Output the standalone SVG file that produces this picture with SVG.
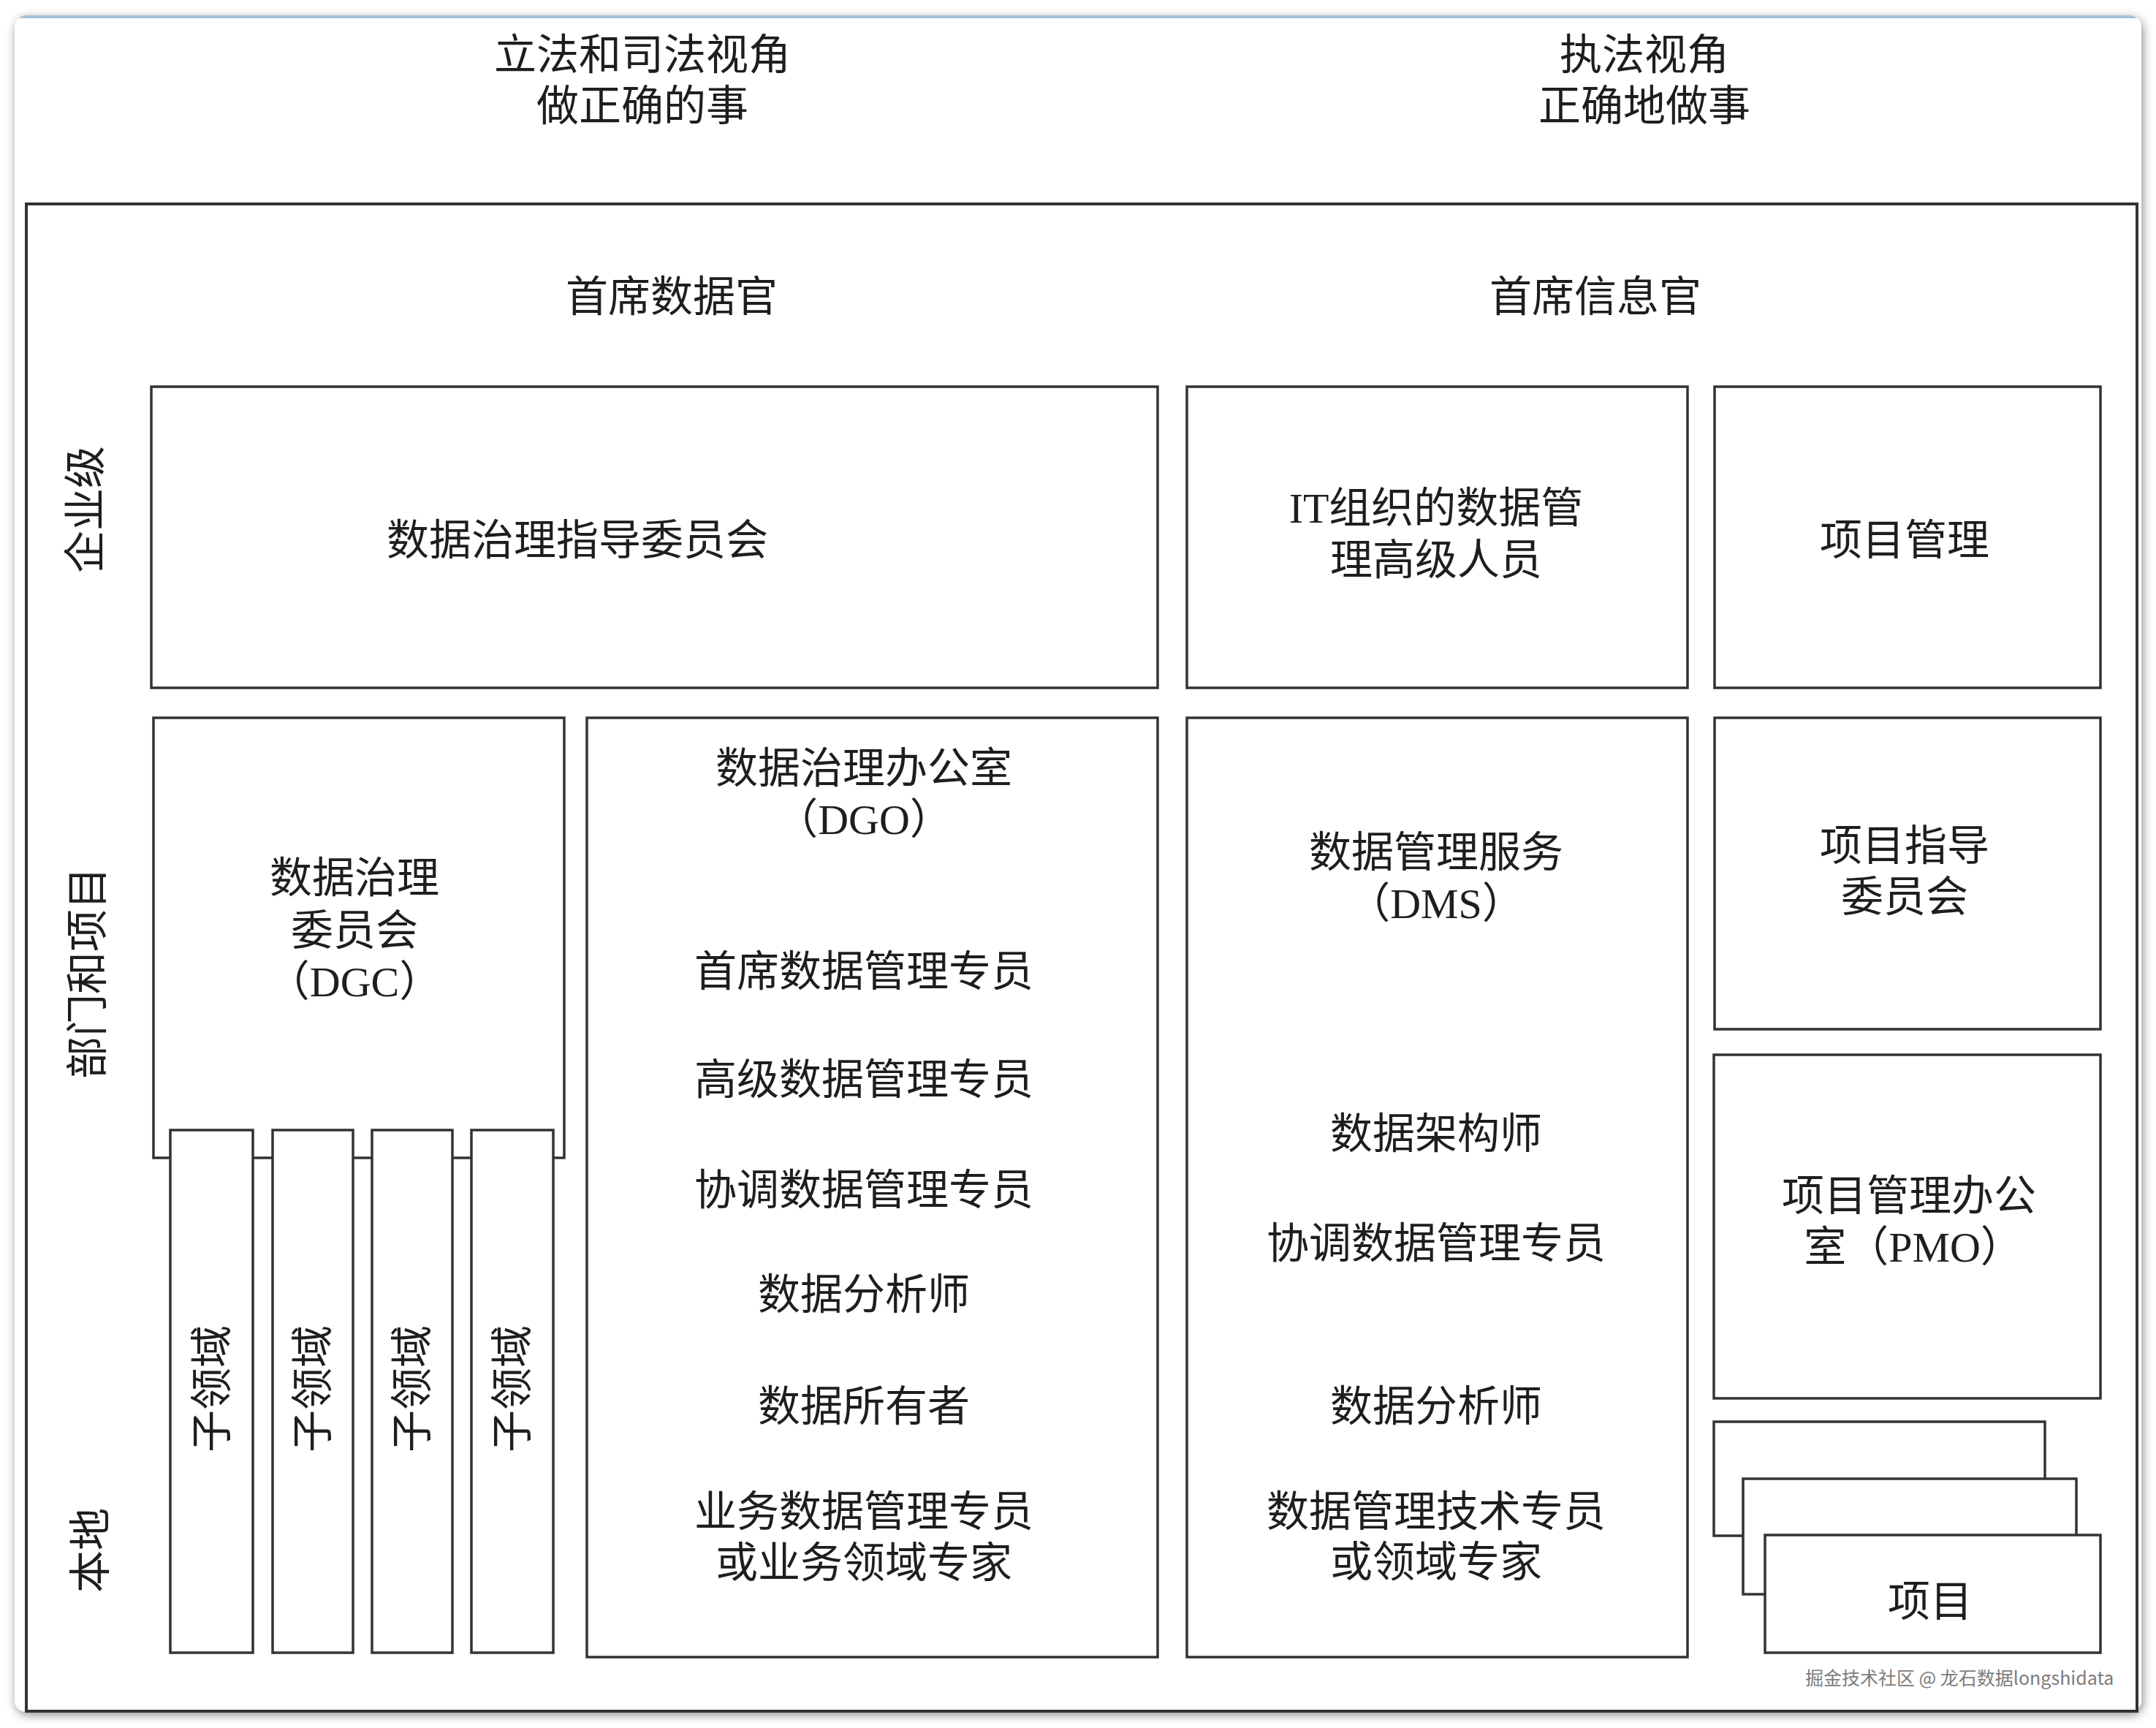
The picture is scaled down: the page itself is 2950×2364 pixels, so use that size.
<svg xmlns="http://www.w3.org/2000/svg" width="2950" height="2364" viewBox="0 0 2950 2364">
  <defs>
    <filter id="shadow" x="-5%" y="-5%" width="110%" height="110%">
      <feDropShadow dx="2" dy="4" stdDeviation="7" flood-color="#000" flood-opacity="0.45"/>
    </filter>
    <clipPath id="cardClip">
      <rect x="20" y="21" width="2910" height="2321" rx="16" ry="16"/>
    </clipPath>
    <style>
      .box { fill: #ffffff; stroke: #333333; stroke-width: 3.5; }
      .frame { fill: none; stroke: #333333; stroke-width: 4; }
      .t { font-family: "Liberation Serif", "Noto Sans CJK SC", serif; font-size: 58px; fill: #1e1e1e; text-anchor: middle; dominant-baseline: central; }
      .wm { font-family: "Noto Sans CJK SC", "Noto Sans", sans-serif; font-size: 25px; fill: #7c7c7c; }
    </style>
  </defs>

  <rect x="0" y="0" width="2950" height="2364" fill="#ffffff"/>

  <g id="card">
    <rect x="20" y="21" width="2910" height="2321" rx="16" ry="16" fill="#ffffff" filter="url(#shadow)"/>
    <rect x="0" y="19" width="2950" height="6" fill="#a6c2da" clip-path="url(#cardClip)"/>
  </g>

  <g id="headings">
    <text class="t" x="879" y="75">立法和司法视角</text>
    <text class="t" x="879" y="145">做正确的事</text>
    <text class="t" x="2250" y="75">执法视角</text>
    <text class="t" x="2250" y="145">正确地做事</text>
  </g>

  <g id="inner-frame">
    <rect class="frame" x="36" y="279" width="2888" height="2062"/>
    <text class="t" x="919" y="406">首席数据官</text>
    <text class="t" x="2183" y="406">首席信息官</text>
  </g>

  <g id="level-labels">
    <text class="t" x="117" y="697" transform="rotate(-90 117 697)">企业级</text>
    <text class="t" x="120" y="1331" transform="rotate(-90 120 1331)">部门和项目</text>
    <text class="t" x="124" y="2121" transform="rotate(-90 124 2121)">本地</text>
  </g>

  <g id="dgsc">
    <rect class="box" x="207" y="529" width="1377" height="412"/>
    <text class="t" x="790" y="739">数据治理指导委员会</text>
  </g>

  <g id="it-senior">
    <rect class="box" x="1624" y="529" width="685" height="412"/>
    <text class="t" x="1965" y="695">IT组织的数据管</text>
    <text class="t" x="1965" y="766">理高级人员</text>
  </g>

  <g id="project-management">
    <rect class="box" x="2346" y="529" width="528" height="412"/>
    <text class="t" x="2606" y="739">项目管理</text>
  </g>

  <g id="dgc">
    <rect class="box" x="210" y="982" width="562" height="602"/>
    <text class="t" x="485" y="1201">数据治理</text>
    <text class="t" x="485" y="1273">委员会</text>
    <text class="t" x="485" y="1343">（DGC）</text>
  </g>

  <g id="subdomain-1">
    <rect class="box" x="233" y="1546" width="113" height="715"/>
    <text class="t" x="290" y="1900" transform="rotate(-90 290 1900)">子领域</text>
  </g>
  <g id="subdomain-2">
    <rect class="box" x="373" y="1546" width="110" height="715"/>
    <text class="t" x="428" y="1900" transform="rotate(-90 428 1900)">子领域</text>
  </g>
  <g id="subdomain-3">
    <rect class="box" x="509" y="1546" width="110" height="715"/>
    <text class="t" x="564" y="1900" transform="rotate(-90 564 1900)">子领域</text>
  </g>
  <g id="subdomain-4">
    <rect class="box" x="645" y="1546" width="112" height="715"/>
    <text class="t" x="701" y="1900" transform="rotate(-90 701 1900)">子领域</text>
  </g>

  <g id="dgo">
    <rect class="box" x="803" y="982" width="781" height="1285"/>
    <text class="t" x="1182" y="1051">数据治理办公室</text>
    <text class="t" x="1182" y="1121">（DGO）</text>
    <text class="t" x="1182" y="1329">首席数据管理专员</text>
    <text class="t" x="1182" y="1477">高级数据管理专员</text>
    <text class="t" x="1182" y="1628">协调数据管理专员</text>
    <text class="t" x="1182" y="1771">数据分析师</text>
    <text class="t" x="1182" y="1924">数据所有者</text>
    <text class="t" x="1182" y="2068">业务数据管理专员</text>
    <text class="t" x="1182" y="2138">或业务领域专家</text>
  </g>

  <g id="dms">
    <rect class="box" x="1624" y="982" width="685" height="1285"/>
    <text class="t" x="1965" y="1166">数据管理服务</text>
    <text class="t" x="1965" y="1236">（DMS）</text>
    <text class="t" x="1965" y="1551">数据架构师</text>
    <text class="t" x="1965" y="1701">协调数据管理专员</text>
    <text class="t" x="1965" y="1924">数据分析师</text>
    <text class="t" x="1965" y="2068">数据管理技术专员</text>
    <text class="t" x="1965" y="2137">或领域专家</text>
  </g>

  <g id="project-steering">
    <rect class="box" x="2346" y="982" width="528" height="426"/>
    <text class="t" x="2606" y="1157">项目指导</text>
    <text class="t" x="2606" y="1227">委员会</text>
  </g>

  <g id="pmo">
    <rect class="box" x="2345" y="1443" width="529" height="470"/>
    <text class="t" x="2612" y="1636">项目管理办公</text>
    <text class="t" x="2618" y="1706">室（PMO）</text>
  </g>

  <g id="projects">
    <rect class="box" x="2345" y="1945" width="453" height="156"/>
    <rect class="box" x="2385" y="2023" width="456" height="158"/>
    <rect class="box" x="2415" y="2100" width="459" height="161"/>
    <text class="t" x="2641" y="2191">项目</text>
  </g>

  <g id="connectors"></g>

  <g id="watermark">
    <text class="wm" x="2470" y="2305">掘金技术社区 @ 龙石数据longshidata</text>
  </g>
</svg>
